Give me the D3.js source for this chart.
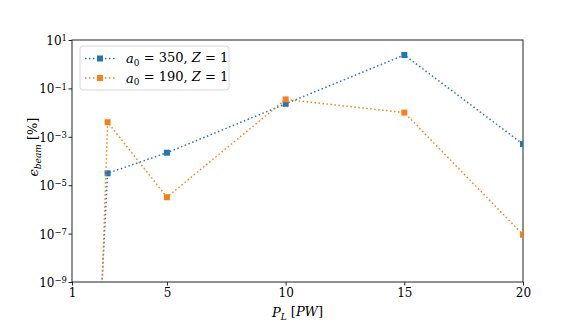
<!DOCTYPE html>
<html>
<head>
<meta charset="utf-8">
<script src="https://cdn.jsdelivr.net/npm/d3@7"></script>
<style>
  body { margin: 0; background: #fff; }
  svg text { font-family: "DejaVu Serif", serif; fill: #000; }
  .axis path, .axis line { stroke: #222; }
</style>
</head>
<body>
<div id="chart"></div>
<script>
// data
var powerPW = [2, 2.5, 5, 10, 15, 20];
var beam350 = [1e-14, 3.1e-5, 2.2e-4, 2.3e-2, 2.4, 5e-4];
var beam190 = [1e-17, 4e-3, 3.2e-6, 3.5e-2, 1e-2, 9e-8];
var xTicks = [1, 5, 10, 15, 20];
var yTicks = [1e-9, 1e-7, 1e-5, 1e-3, 1e-1, 1e1];

var svgWidth = 581;
var svgHeight = 323;
var margin = { top: 40, right: 58, bottom: 41, left: 72 };
var width = svgWidth - margin.left - margin.right;
var height = svgHeight - margin.top - margin.bottom;

var svg = d3.select("#chart").append("svg")
  .attr("width", svgWidth)
  .attr("height", svgHeight);

svg.append("rect").attr("width", svgWidth).attr("height", svgHeight).attr("fill", "#fff");

var chartGroup = svg.append("g")
  .attr("transform", `translate(${margin.left}, ${margin.top})`);

var x = d3.scaleLinear().domain([1, 20]).range([0, width]);
var y = d3.scaleLog().domain([1e-9, 10]).range([height, 0]);

chartGroup.append("clipPath").attr("id", "plotclip")
  .append("rect").attr("width", width).attr("height", height);

// axes
var bottomAxis = d3.axisBottom(x).tickValues(xTicks).tickSize(3.5).tickPadding(3);
var leftAxis = d3.axisLeft(y).tickValues(yTicks).tickSize(3.5).tickPadding(3).tickFormat("");

chartGroup.append("g").attr("class", "axis")
  .attr("transform", `translate(0, ${height})`)
  .call(bottomAxis)
  .call(g => g.select(".domain").remove())
  .selectAll("text").attr("font-size", 12);

var yAxisG = chartGroup.append("g").attr("class", "axis")
  .call(leftAxis)
  .call(g => g.select(".domain").remove());

yAxisG.selectAll(".tick").each(function(d) {
  var t = d3.select(this).append("text")
    .attr("x", -5).attr("dy", "0.38em")
    .attr("text-anchor", "end")
    .attr("font-size", 12);
  t.append("tspan").text("10");
  t.append("tspan").attr("dy", "-0.45em").attr("font-size", 8.5)
    .text(String(Math.round(Math.log10(d))).replace("-", "\u2212"));
});

// frame
chartGroup.append("rect")
  .attr("width", width).attr("height", height)
  .attr("fill", "none").attr("stroke", "#222").attr("stroke-width", 1);

// series
var series = [
  { vals: beam350, color: "#1f77b4" },
  { vals: beam190, color: "#ff7f0e" }
];

var line = d3.line()
  .x(d => x(d[0]))
  .y(d => y(d[1]));

var plot = chartGroup.append("g").attr("clip-path", "url(#plotclip)");

series.forEach(function(s) {
  var pts = powerPW.map((p, i) => [p, s.vals[i]]);
  plot.append("path")
    .datum(pts)
    .attr("d", line)
    .attr("fill", "none")
    .attr("stroke", s.color)
    .attr("stroke-width", 1.5)
    .attr("stroke-dasharray", "1.5,2.5");
  plot.selectAll(null)
    .data(pts.filter(d => d[1] >= 1e-9))
    .enter()
    .append("rect")
    .attr("x", d => x(d[0]) - 3)
    .attr("y", d => y(d[1]) - 3)
    .attr("width", 6).attr("height", 6)
    .attr("fill", s.color);
});

// legend
var legend = chartGroup.append("g").attr("transform", "translate(8, 6)");
legend.append("rect")
  .attr("width", 149).attr("height", 44)
  .attr("rx", 3).attr("fill", "#fff").attr("fill-opacity", 0.8)
  .attr("stroke", "#d8d8d8").attr("stroke-width", 1);

var legendLabels = ["350", "190"];
series.forEach(function(s, i) {
  var ly = 12.5 + i * 19.5;
  legend.append("line")
    .attr("x1", 5).attr("x2", 35).attr("y1", ly).attr("y2", ly)
    .attr("stroke", s.color).attr("stroke-width", 1.5)
    .attr("stroke-dasharray", "1.5,2.5");
  legend.append("rect")
    .attr("x", 17).attr("y", ly - 3).attr("width", 6).attr("height", 6)
    .attr("fill", s.color);
  var t = legend.append("text")
    .attr("x", 46).attr("y", ly).attr("dy", "0.35em")
    .attr("font-size", 13);
  t.append("tspan").attr("font-style", "italic").text("a");
  t.append("tspan").attr("font-size", 9).attr("dy", "0.3em").text("0");
  t.append("tspan").attr("dy", "-0.3em").text(" = " + legendLabels[i] + ", ");
  t.append("tspan").attr("font-style", "italic").text("Z");
  t.append("tspan").text(" = 1");
});

// axis labels
var xl = chartGroup.append("text")
  .attr("x", width / 2).attr("y", height + 35)
  .attr("text-anchor", "middle").attr("font-size", 13);
xl.append("tspan").attr("font-style", "italic").text("P");
xl.append("tspan").attr("font-style", "italic").attr("font-size", 9).attr("dy", "0.3em").text("L");
xl.append("tspan").attr("dy", "-0.3em").text(" [");
xl.append("tspan").attr("font-style", "italic").text("PW");
xl.append("tspan").text("]");

var yl = chartGroup.append("text")
  .attr("transform", `translate(-34, ${height / 2 - 14}) rotate(-90)`)
  .attr("text-anchor", "middle").attr("font-size", 13);
yl.append("tspan").attr("font-style", "italic").text("\u03f5");
yl.append("tspan").attr("font-style", "italic").attr("font-size", 9).attr("dy", "0.3em").text("beam");
yl.append("tspan").attr("dy", "-0.3em").text(" [%]");
</script>
</body>
</html>
